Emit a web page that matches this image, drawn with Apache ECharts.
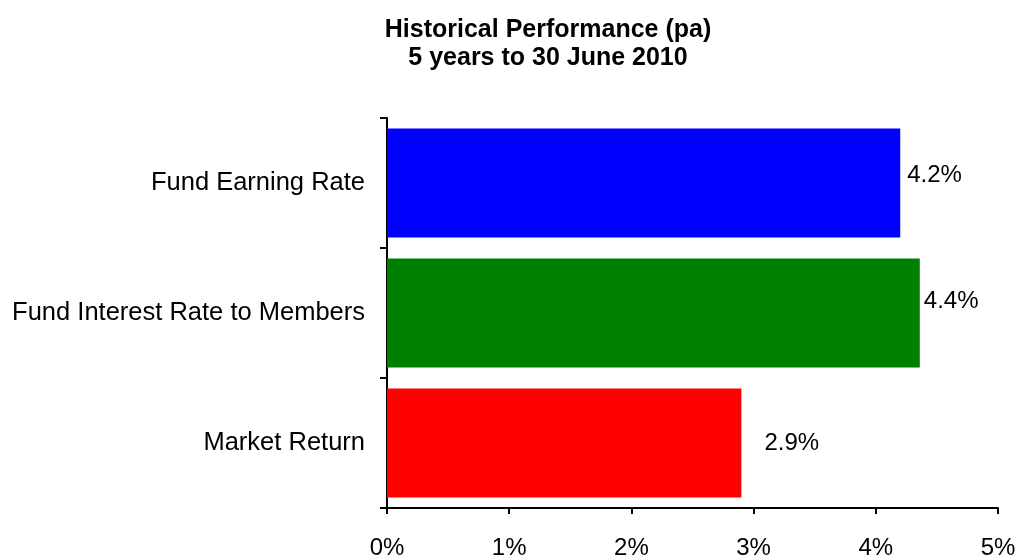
<!DOCTYPE html>
<html>
<head>
<meta charset="utf-8">
<script src="https://cdn.jsdelivr.net/npm/echarts@6/dist/echarts.min.js"></script>
<style>
  html, body { margin: 0; padding: 0; background: #fff; }
  #chart { width: 1019px; height: 560px; }
</style>
</head>
<body>
<div id="chart"></div>
<script>
// ── data ──
const categories = ["Fund Earning Rate", "Fund Interest Rate to Members", "Market Return"];
const values = [4.2, 4.36, 2.9];
const barColors = ["#0000FF", "#008000", "#FF0000"];
const xTicks = ["0%", "1%", "2%", "3%", "4%", "5%"];

const FONT = "'Liberation Sans', Arial, sans-serif";

// label placement tweaks (Excel labels were nudged by hand)
const labelNudge = [[7, -8], [4, -12], [23, 0]];

const chart = echarts.init(document.getElementById("chart"));

chart.setOption({
  animation: false,
  backgroundColor: "#fff",
  title: {
    text: "Historical Performance (pa)\n5 years to 30 June 2010",
    left: 543,
    top: 11,
    textAlign: "center",
    textStyle: {
      fontFamily: FONT,
      fontSize: 25,
      fontWeight: "bold",
      color: "#000",
      lineHeight: 28,
    },
  },
  grid: {
    left: 387,
    right: 21,
    top: 118,
    bottom: 50,
  },
  xAxis: {
    type: "value",
    min: 0,
    max: 5,
    interval: 1,
    splitLine: { show: false },
    axisLine: { show: true, lineStyle: { color: "#000", width: 2 } },
    axisTick: { show: true, length: 6, lineStyle: { color: "#000", width: 2 } },
    axisLabel: {
      margin: 28,
      fontFamily: FONT,
      fontSize: 24,
      color: "#000",
      formatter: (v) => xTicks[Math.round(v)],
    },
  },
  yAxis: {
    type: "category",
    inverse: true,
    data: categories,
    axisLine: { show: true, lineStyle: { color: "#000", width: 2 } },
    axisTick: { show: true, length: 7, lineStyle: { color: "#000", width: 2 } },
    axisLabel: {
      margin: 22,
      fontFamily: FONT,
      fontSize: 25.5,
      color: "#000",
    },
  },
  series: [
    {
      type: "bar",
      barCategoryGap: "16%",
      data: values.map((v, i) => ({
        value: v,
        itemStyle: { color: barColors[i] },
        label: {
          show: true,
          position: "right",
          distance: labelNudge[i][0],
          offset: [0, labelNudge[i][1]],
          formatter: (p) => p.value.toFixed(1) + "%",
          fontFamily: FONT,
          fontSize: 24,
          color: "#000",
        },
      })),
    },
  ],
});
</script>
</body>
</html>
